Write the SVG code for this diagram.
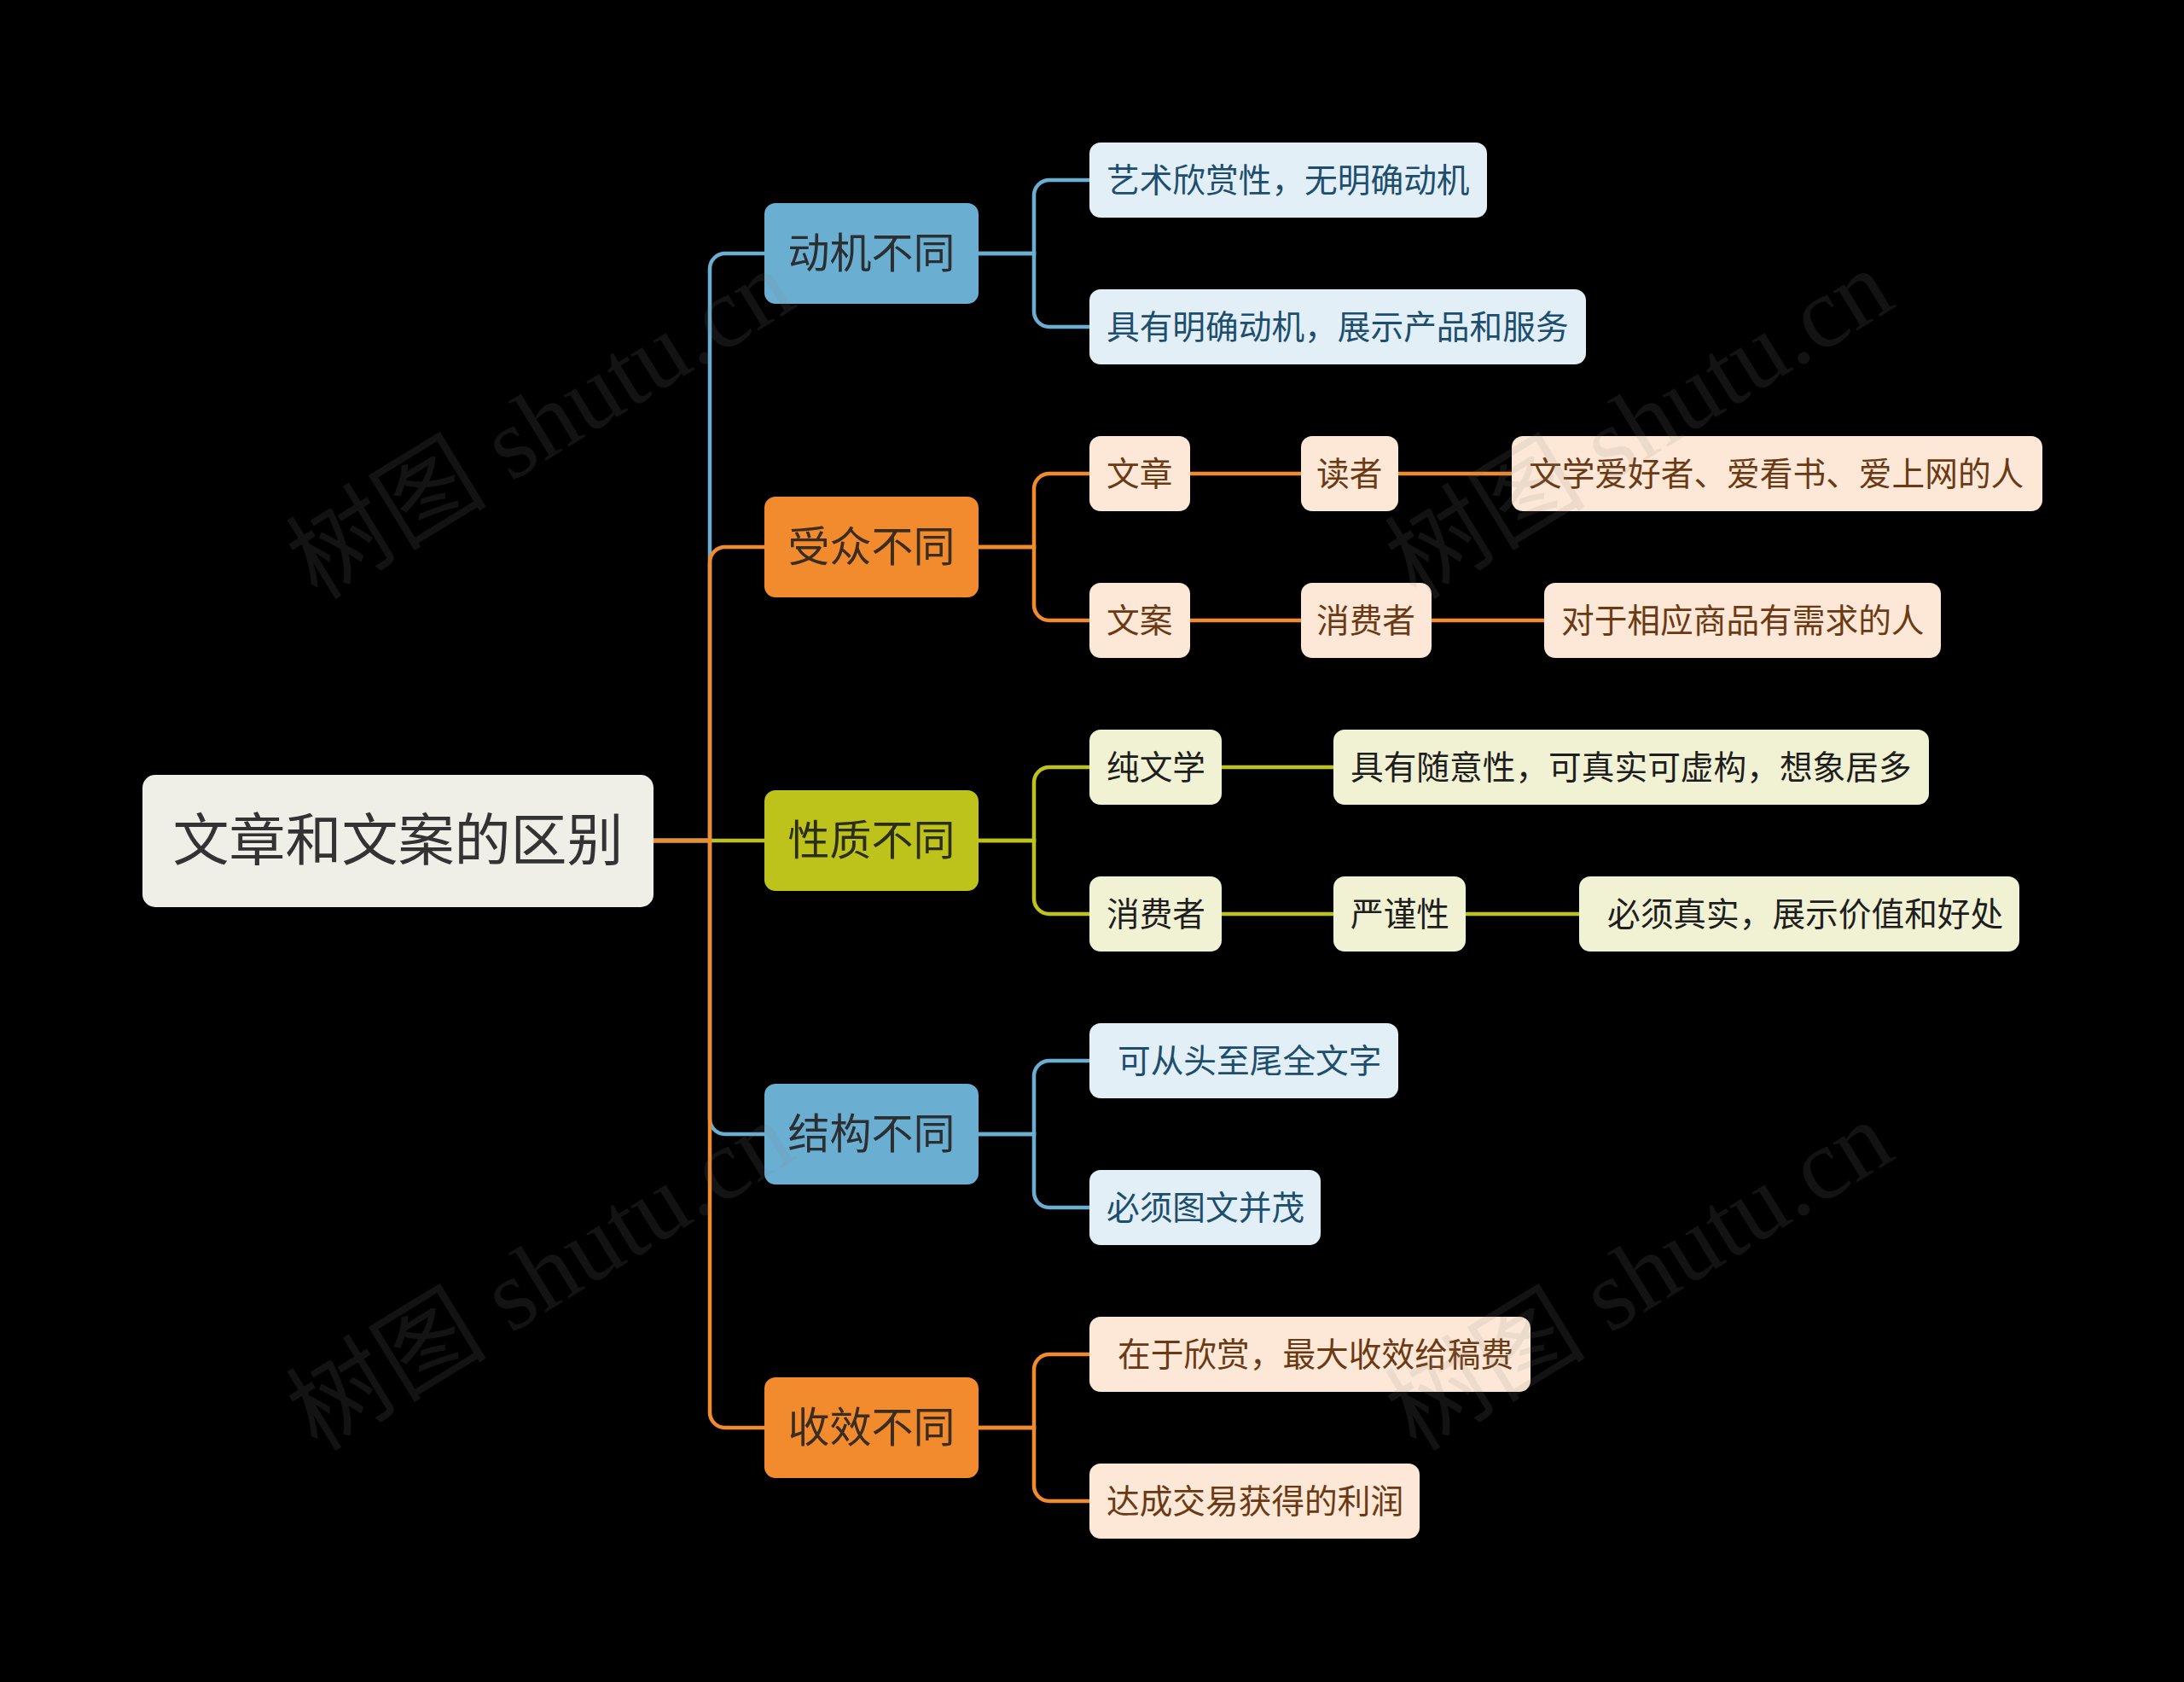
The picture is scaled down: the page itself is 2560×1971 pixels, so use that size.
<svg xmlns="http://www.w3.org/2000/svg" width="2560" height="1971" viewBox="0 0 2560 1971">
<style>
text{font-family:"Liberation Sans","Noto Sans CJK SC",sans-serif;dominant-baseline:central}
.c{fill:none;stroke-width:4.5;stroke-linecap:butt}
.cb{stroke:#6aaed2}.co{stroke:#f18b2e}.cg{stroke:#bdc31b}
.l1{font-size:49px;text-anchor:middle}
.l2{font-size:38.7px}
.nb{fill:#6aaed2}.no{fill:#f18b2e}.ng{fill:#bdc31b}
.kb{fill:#e2eff7}.ko{fill:#fde8d7}.kg{fill:#f1f2d4}
.tb{fill:#1d4e6d}.to{fill:#6b3a14}.tg{fill:#1e1e1e}
.wm{font-family:"Liberation Serif","Noto Sans CJK SC",serif;font-size:118px;fill:#888;fill-opacity:0.14;dominant-baseline:alphabetic}
</style>
<rect width="2560" height="1971" fill="#000"/>
<g id="connectors">
<path class="c cb" d="M766 985H832V315A18 18 0 0 1 850 297H896"/>
<path class="c co" d="M766 985H832V659A18 18 0 0 1 850 641H896"/>
<path class="c cg" d="M766 985H896"/>
<path class="c cb" d="M766 985H832V1311A18 18 0 0 0 850 1329H896"/>
<path class="c co" d="M766 985H832V1655A18 18 0 0 0 850 1673H896"/>
<path class="c cb" d="M1147 297H1212V229A18 18 0 0 1 1230 211H1277"/>
<path class="c cb" d="M1147 297H1212V365A18 18 0 0 0 1230 383H1277"/>
<path class="c co" d="M1147 641H1212V573A18 18 0 0 1 1230 555H1277"/>
<path class="c co" d="M1147 641H1212V709A18 18 0 0 0 1230 727H1277"/>
<path class="c cg" d="M1147 985H1212V917A18 18 0 0 1 1230 899H1277"/>
<path class="c cg" d="M1147 985H1212V1053A18 18 0 0 0 1230 1071H1277"/>
<path class="c cb" d="M1147 1329H1212V1261A18 18 0 0 1 1230 1243H1277"/>
<path class="c cb" d="M1147 1329H1212V1397A18 18 0 0 0 1230 1415H1277"/>
<path class="c co" d="M1147 1673H1212V1605A18 18 0 0 1 1230 1587H1277"/>
<path class="c co" d="M1147 1673H1212V1741A18 18 0 0 0 1230 1759H1277"/>
<path class="c co" d="M1395 555H1525M1639 555H1772M1395 727H1525M1678 727H1810"/>
<path class="c cg" d="M1432 899H1563M1432 1071H1563M1718 1071H1851"/>
</g>
<g id="root">
<rect x="167" y="908" width="599" height="155" rx="15" fill="#efeee7"/>
<text x="466.5" y="985" style="font-size:66px;text-anchor:middle;fill:#333">文章和文案的区别</text>
</g>
<g id="n-dongji"><rect class="nb" x="896" y="238" width="251" height="118" rx="13"/><text class="l1" x="1021.5" y="297" fill="#2c2f31">动机不同</text></g>
<g id="n-shouzhong"><rect class="no" x="896" y="582" width="251" height="118" rx="13"/><text class="l1" x="1021.5" y="641" fill="#3b2c1e">受众不同</text></g>
<g id="n-xingzhi"><rect class="ng" x="896" y="926" width="251" height="118" rx="13"/><text class="l1" x="1021.5" y="985" fill="#2c2e14">性质不同</text></g>
<g id="n-jiegou"><rect class="nb" x="896" y="1270" width="251" height="118" rx="13"/><text class="l1" x="1021.5" y="1329" fill="#2c2f31">结构不同</text></g>
<g id="n-shouxiao"><rect class="no" x="896" y="1614" width="251" height="118" rx="13"/><text class="l1" x="1021.5" y="1673" fill="#3b2c1e">收效不同</text></g>

<g id="a1"><rect class="kb" x="1277" y="167" width="466" height="88" rx="13"/><text class="l2 tb" x="1297" y="211">艺术欣赏性，无明确动机</text></g>
<g id="a2"><rect class="kb" x="1277" y="339" width="582" height="88" rx="13"/><text class="l2 tb" x="1297" y="383">具有明确动机，展示产品和服务</text></g>

<g id="b1"><rect class="ko" x="1277" y="511" width="118" height="88" rx="13"/><text class="l2 to" x="1297" y="555">文章</text></g>
<g id="b1a"><rect class="ko" x="1525" y="511" width="114" height="88" rx="13"/><text class="l2 to" x="1543" y="555">读者</text></g>
<g id="b1b"><rect class="ko" x="1772" y="511" width="622" height="88" rx="13"/><text class="l2 to" x="1792" y="555">文学爱好者、爱看书、爱上网的人</text></g>
<g id="b2"><rect class="ko" x="1277" y="683" width="118" height="88" rx="13"/><text class="l2 to" x="1297" y="727">文案</text></g>
<g id="b2a"><rect class="ko" x="1525" y="683" width="153" height="88" rx="13"/><text class="l2 to" x="1543" y="727">消费者</text></g>
<g id="b2b"><rect class="ko" x="1810" y="683" width="465" height="88" rx="13"/><text class="l2 to" x="1830" y="727">对于相应商品有需求的人</text></g>

<g id="c1"><rect class="kg" x="1277" y="855" width="155" height="88" rx="13"/><text class="l2 tg" x="1297" y="899">纯文学</text></g>
<g id="c1a"><rect class="kg" x="1563" y="855" width="698" height="88" rx="13"/><text class="l2 tg" x="1583" y="899">具有随意性，可真实可虚构，想象居多</text></g>
<g id="c2"><rect class="kg" x="1277" y="1027" width="155" height="88" rx="13"/><text class="l2 tg" x="1297" y="1071">消费者</text></g>
<g id="c2a"><rect class="kg" x="1563" y="1027" width="155" height="88" rx="13"/><text class="l2 tg" x="1583" y="1071">严谨性</text></g>
<g id="c2b"><rect class="kg" x="1851" y="1027" width="516" height="88" rx="13"/><text class="l2 tg" x="1884" y="1071">必须真实，展示价值和好处</text></g>

<g id="d1"><rect class="kb" x="1277" y="1199" width="362" height="88" rx="13"/><text class="l2 tb" x="1310" y="1243">可从头至尾全文字</text></g>
<g id="d2"><rect class="kb" x="1277" y="1371" width="271" height="88" rx="13"/><text class="l2 tb" x="1297" y="1415">必须图文并茂</text></g>

<g id="e1"><rect class="ko" x="1277" y="1543" width="517" height="88" rx="13"/><text class="l2 to" x="1310" y="1587">在于欣赏，最大收效给稿费</text></g>
<g id="e2"><rect class="ko" x="1277" y="1715" width="387" height="88" rx="13"/><text class="l2 to" x="1297" y="1759">达成交易获得的利润</text></g>

<g id="watermarks">
<text class="wm" transform="translate(372 704) rotate(-31.5)">树图 shutu.cn</text>
<text class="wm" transform="translate(1660 704) rotate(-31.5)">树图 shutu.cn</text>
<text class="wm" transform="translate(372 1702) rotate(-31.5)">树图 shutu.cn</text>
<text class="wm" transform="translate(1660 1702) rotate(-31.5)">树图 shutu.cn</text>
</g>
</svg>
